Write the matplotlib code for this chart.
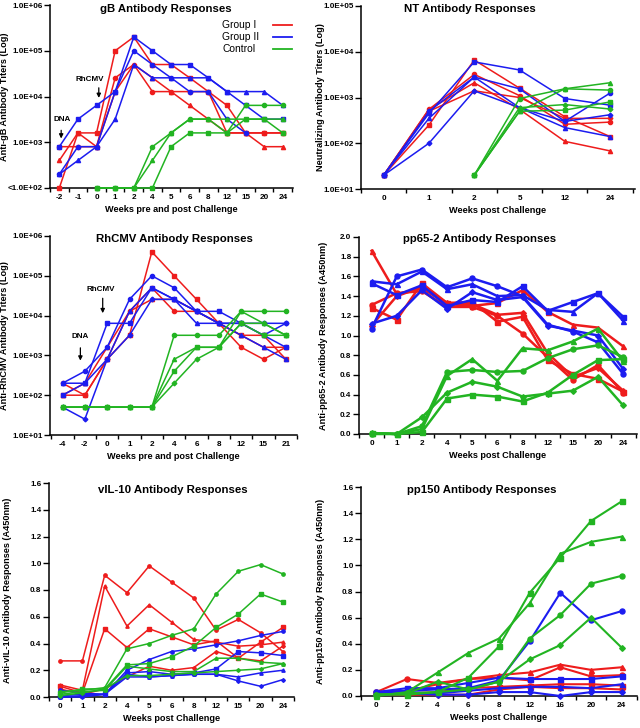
import numpy as np
import matplotlib
matplotlib.use("Agg")
import matplotlib.pyplot as plt
from matplotlib.lines import Line2D

nan = np.nan
RED, BLUE, GREEN = "#ee1c1c", "#1c1cf0", "#22b422"
MARKERS = ["s", "o", "^", "D"]

# ---------------- gB ----------------
gb_weeks = ["-2", "-1", "0", "1", "2", "4", "5", "6", "8", "12", "15", "20", "24"]
gb_group1 = [
    [100, 1600, 1600, 1e5, 2e5, 5e4, 5e4, 25600, 12800, 6400, 1600, 1600, 1600],
    [800, 800, 800, 25600, 5e4, 12800, 12800, 12800, 12800, 1600, 1600, 1600, 1600],
    [400, 1600, 800, 12800, 5e4, 25600, 12800, 6400, 3200, 1600, 1600, 800, 800],
]
gb_group2 = [
    [800, 3200, 6400, 12800, 2e5, 1e5, 5e4, 5e4, 25600, 12800, 6400, 3200, 3200],
    [200, 800, 800, 12800, 1e5, 5e4, 25600, 12800, 12800, 3200, 1600, nan, nan],
    [200, 400, 800, 3200, 5e4, 25600, 25600, 25600, 25600, 12800, 12800, 12800, 6400],
]
gb_control = [
    [nan, nan, 100, 100, 100, 100, 800, 1600, 1600, 1600, 3200, 3200, 1600],
    [nan, nan, 100, 100, 100, 800, 1600, 3200, 3200, 1600, 6400, 6400, 6400],
    [nan, nan, 100, 100, 100, 400, 1600, 3200, 3200, 3200, 3200, 3200, 3200],
]
gb_yticklabels = ["<1.0E+02", "1.0E+03", "1.0E+04", "1.0E+05", "1.0E+06"]
legend_labels = ["Group I", "Group II", "Control"]

# ---------------- NT ----------------
nt_weeks = ["0", "1", "2", "5", "12", "24"]
nt_group1 = [
    [20, 250, 6600, 1600, 380, 140],
    [20, 550, 3200, 1100, 260, 290],
    [20, 550, 2100, 550, 110, 68],
    [20, 500, 1400, 1000, 350, 350],
]
nt_group2 = [
    [20, 450, 6000, 4000, 950, 680],
    [20, 500, 2800, 1550, 300, 1250],
    [20, 350, 2800, 600, 220, 140],
    [20, 100, 1400, 600, 300, 420],
]
nt_control = [
    [nan, nan, 20, 500, 530, 800],
    [nan, nan, 20, 950, 1550, 1450],
    [nan, nan, 20, 500, 1550, 2100],
    [nan, nan, 20, 600, 700, 560],
]
nt_yticklabels = ["1.0E+01", "1.0E+02", "1.0E+03", "1.0E+04", "1.0E+05"]

# ---------------- RhCMV ----------------
rh_weeks = ["-4", "-2", "0", "1", "2", "4", "6", "8", "12", "15", "21"]
rh_group1 = [
    [100, 100, 800, 3200, 4e5, 1e5, 25600, 6400, 3200, 3200, 800],
    [200, 100, 800, 12800, 5e4, 12800, 12800, 6400, 1600, 800, 1600],
    [100, 200, 1600, 12800, 25600, 25600, 12800, 6400, 3200, 1600, 1600],
]
rh_group2 = [
    [100, 200, 6400, 6400, 5e4, 25600, 12800, 12800, 6400, 3200, 1600],
    [200, 400, 1600, 25600, 1e5, 5e4, 12800, 6400, 6400, 6400, 6400],
    [200, 200, 800, 12800, 5e4, 25600, 6400, 6400, 3200, 1600, 800],
    [50, 25, 800, 3200, 25600, 25600, 12800, 6400, 6400, 3200, 6400],
]
rh_control = [
    [50, 50, 50, 50, 50, 400, 1600, 1600, 6400, 3200, 3200],
    [50, 50, 50, 50, 50, 3200, 3200, 3200, 12800, 12800, 12800],
    [50, 50, 50, 50, 50, 800, 1600, 1600, 12800, 6400, 3200],
    [50, 50, 50, 50, 50, 200, 800, 1600, 6400, 6400, 3200],
]
rh_yticklabels = ["1.0E+01", "1.0E+02", "1.0E+03", "1.0E+04", "1.0E+05", "1.0E+06"]

# ---------------- pp65-2 ----------------
pp65_weeks = ["0", "1", "2", "4", "5", "6", "8", "12", "15", "20", "24"]
pp65_group1 = [
    [1.28, 1.16, 1.53, 1.33, 1.34, 1.14, 1.19, 0.75, 0.61, 0.56, 0.43],
    [1.31, 1.43, 1.45, 1.29, 1.29, 1.20, 1.02, 0.78, 0.55, 0.70, 0.42],
    [1.86, 1.42, 1.48, 1.32, 1.30, 1.33, 1.46, 1.24, 1.11, 1.08, 0.89],
    [1.10, 1.40, 1.49, 1.33, 1.32, 1.21, 1.23, 0.82, 0.58, 0.67, 0.44],
]
pp65_group2 = [
    [1.53, 1.41, 1.51, 1.30, 1.36, 1.34, 1.50, 1.25, 1.34, 1.43, 1.19],
    [1.07, 1.60, 1.67, 1.49, 1.58, 1.50, 1.40, 1.11, 1.04, 0.93, 0.61],
    [1.55, 1.52, 1.65, 1.47, 1.52, 1.40, 1.41, 1.26, 1.24, 1.43, 1.15],
    [1.12, 1.20, 1.46, 1.27, 1.44, 1.36, 1.39, 1.10, 1.05, 1.00, 0.66],
]
pp65_control = [
    [0.01, 0.00, 0.02, 0.36, 0.40, 0.38, 0.33, 0.42, 0.60, 0.75, 0.76],
    [0.00, 0.00, 0.08, 0.63, 0.65, 0.63, 0.64, 0.77, 0.86, 0.90, 0.78],
    [0.01, 0.00, 0.05, 0.59, 0.76, 0.54, 0.87, 0.85, 0.94, 1.07, 0.74],
    [0.01, 0.00, 0.17, 0.42, 0.53, 0.48, 0.38, 0.41, 0.44, 0.58, 0.29],
]

# ---------------- vIL-10 ----------------
vil_weeks = ["0", "1", "2", "4", "5", "6", "8", "12", "15", "20", "24"]
vil_group1 = [
    [0.08, 0.03, 0.51, 0.37, 0.51, 0.45, 0.39, 0.42, 0.29, 0.41, 0.52],
    [0.27, 0.27, 0.91, 0.78, 0.98, 0.86, 0.74, 0.50, 0.58, 0.48, 0.34],
    [0.09, 0.05, 0.83, 0.53, 0.69, 0.56, 0.43, 0.41, 0.38, 0.39, 0.41],
    [0.06, 0.02, 0.06, 0.15, 0.23, 0.20, 0.22, 0.34, 0.29, 0.27, 0.38],
]
vil_group2 = [
    [0.01, 0.02, 0.02, 0.18, 0.19, 0.17, 0.18, 0.21, 0.34, 0.33, 0.31],
    [0.05, 0.03, 0.02, 0.20, 0.28, 0.34, 0.36, 0.39, 0.42, 0.46, 0.49],
    [0.00, 0.01, 0.02, 0.17, 0.15, 0.16, 0.17, 0.17, 0.15, 0.18, 0.20],
    [0.00, 0.00, 0.02, 0.15, 0.15, 0.16, 0.17, 0.17, 0.12, 0.08, 0.13],
]
vil_control = [
    [0.03, 0.06, 0.06, 0.24, 0.25, 0.30, 0.38, 0.52, 0.62, 0.77, 0.71],
    [0.04, 0.05, 0.07, 0.36, 0.40, 0.46, 0.51, 0.77, 0.94, 0.99, 0.92],
    [0.02, 0.04, 0.05, 0.23, 0.21, 0.19, 0.19, 0.29, 0.29, 0.26, 0.25],
    [0.01, 0.03, 0.06, 0.16, 0.16, 0.17, 0.18, 0.19, 0.20, 0.21, 0.25],
]

# ---------------- pp150 ----------------
pp150_weeks = ["0", "2", "4", "6", "8", "12", "16", "20", "24"]
pp150_group1 = [
    [0.02, 0.02, 0.03, 0.06, 0.07, 0.08, 0.09, 0.09, 0.08],
    [0.03, 0.13, 0.10, 0.13, 0.14, 0.12, 0.22, 0.15, 0.16],
    [0.03, 0.04, 0.09, 0.13, 0.16, 0.18, 0.24, 0.20, 0.22],
    [0.01, 0.01, 0.01, 0.01, 0.05, 0.07, 0.06, 0.06, 0.05],
]
pp150_group2 = [
    [0.03, 0.06, 0.06, 0.10, 0.14, 0.13, 0.13, 0.13, 0.15],
    [0.03, 0.04, 0.05, 0.06, 0.12, 0.42, 0.79, 0.58, 0.65],
    [0.02, 0.03, 0.02, 0.04, 0.06, 0.07, 0.07, 0.06, 0.09],
    [0.01, 0.02, 0.01, 0.01, 0.03, 0.03, 0.00, 0.03, 0.03],
]
pp150_control = [
    [0.01, 0.01, 0.03, 0.14, 0.38, 0.79, 1.06, 1.34, 1.49],
    [0.01, 0.02, 0.03, 0.05, 0.11, 0.44, 0.62, 0.86, 0.92],
    [0.00, 0.03, 0.18, 0.33, 0.44, 0.71, 1.09, 1.18, 1.22],
    [0.01, 0.02, 0.11, 0.05, 0.11, 0.28, 0.39, 0.60, 0.37],
]

# ---------------- drawing ----------------
plt.rcParams["font.family"] = ["Liberation Sans", "DejaVu Sans"]
fig = plt.figure(figsize=(6.4, 7.28), dpi=100)


def add_ax(l, t, r, b):
    return fig.add_axes([l / 640, 1 - b / 728, (r - l) / 640, (b - t) / 728])


def draw_groups(ax, groups, lw, ms):
    for color, series_list in zip((RED, BLUE, GREEN), groups):
        for k, ys in enumerate(series_list):
            x = np.arange(len(ys))
            m = MARKERS[k % 4]
            size = ms * 0.8 if m == "D" else ms
            ax.plot(x, ys, color=color, lw=lw, marker=m,
                    ms=size, mec=color, mfc=color, clip_on=False, zorder=3)


def style(ax, weeks, xlim, title, tx, ty, xlabel, ylabel, ylx):
    n = len(weeks)
    ax.set_xlim(*xlim)
    ax.set_xticks(np.arange(-0.5, n, 1.0))
    ax.set_xticklabels([])
    ax.set_xticks(np.arange(n), weeks, minor=True)
    ax.tick_params(axis="x", which="major", length=3, width=1, direction="out")
    ax.tick_params(axis="x", which="minor", length=0, pad=4, labelsize=5.9)
    ax.tick_params(axis="y", which="major", length=4, width=1, direction="out",
                   labelsize=5.8, pad=1.5)
    for lbl in ax.get_xticklabels(minor=True) + ax.get_yticklabels():
        lbl.set_fontweight("bold")
    for s in ("top", "right"):
        ax.spines[s].set_visible(False)
    for s in ("left", "bottom"):
        ax.spines[s].set_linewidth(1.1)
    ax.set_xlabel(xlabel, fontsize=6.6, fontweight="bold", labelpad=3)
    ax.set_ylabel(ylabel, fontsize=6.6, fontweight="bold")
    ax.yaxis.set_label_coords(ylx, 0.5)
    ax.text(tx, ty, title, transform=ax.transAxes, ha="center", va="center",
            fontsize=8.2, fontweight="bold", clip_on=False)


def log_y(ax, lo, hi, labels):
    ax.set_yscale("log")
    ax.set_ylim(lo, hi)
    ticks = [10.0 ** e for e in range(int(np.log10(lo)), int(np.log10(hi)) + 1)]
    ax.set_yticks(ticks, labels)
    ax.yaxis.set_minor_locator(matplotlib.ticker.NullLocator())


def lin_y(ax, hi):
    ax.set_ylim(0, hi)
    ticks = np.round(np.arange(0, hi + 0.001, 0.2), 1)
    ax.set_yticks(ticks, ["%.1f" % t for t in ticks])


def arrow(ax, x, y_tip, y_tail):
    ax.annotate("", xy=(x, y_tip), xytext=(x, y_tail),
                arrowprops=dict(arrowstyle="-|>", color="black", lw=0.9,
                                mutation_scale=6))


# gB
ax1 = add_ax(50, 5, 293, 188)
draw_groups(ax1, (gb_group1, gb_group2, gb_control), 1.1, 3.0)
log_y(ax1, 100, 1e6, gb_yticklabels)
style(ax1, gb_weeks, (-0.45, 12.55), "gB Antibody Responses", 0.477, 0.978,
      "Weeks pre and post Challenge", "Anti-gB Antibody Titers (Log)", -0.168)
arrow(ax1, 0.1, 1050, 2100)
ax1.text(0.15, 3200, "DNA", ha="center", va="center", fontsize=5.8,
         fontweight="bold")
arrow(ax1, 2.12, 8100, 17800)
ax1.text(1.65, 23000, "RhCMV", ha="center", va="center", fontsize=5.8,
         fontweight="bold")
for i, (lab, c) in enumerate(zip(legend_labels, (RED, BLUE, GREEN))):
    yy = 0.891 - i * 0.066
    ax1.text(0.708, yy, lab, transform=ax1.transAxes, ha="left", va="center",
             fontsize=7.4)
    ax1.add_line(Line2D([0.918, 0.996], [yy, yy], transform=ax1.transAxes,
                        color=c, lw=1.3, clip_on=False))

# NT
ax2 = add_ax(361, 6, 635, 189)
draw_groups(ax2, (nt_group1, nt_group2, nt_control), 1.1, 3.0)
log_y(ax2, 10, 1e5, nt_yticklabels)
style(ax2, nt_weeks, (-0.45, 5.55), "NT Antibody Responses", 0.398, 0.984,
      "Weeks post Challenge", "Neutralizing Antibody Titers (Log)", -0.13)

# RhCMV
ax3 = add_ax(50, 236, 297, 435)
draw_groups(ax3, (rh_group1, rh_group2, rh_control), 1.1, 3.0)
log_y(ax3, 10, 1e6, rh_yticklabels)
style(ax3, rh_weeks, (-0.56, 10.4), "RhCMV Antibody Responses", 0.502, 0.985,
      "Weeks pre and post Challenge", "Anti-RhCMV Antibody Titers (Log)", -0.164)
arrow(ax3, 0.8, 630, 1820)
ax3.text(0.8, 2950, "DNA", ha="center", va="center", fontsize=5.8,
         fontweight="bold")
arrow(ax3, 1.8, 9800, 32000)
ax3.text(1.73, 45000, "RhCMV", ha="center", va="center", fontsize=5.8,
         fontweight="bold")

# pp65-2
ax4 = add_ax(359, 237, 637, 434)
draw_groups(ax4, (pp65_group1, pp65_group2, pp65_control), 1.8, 3.6)
lin_y(ax4, 2.0)
style(ax4, pp65_weeks, (-0.5, 10.55), "pp65-2 Antibody Responses", 0.435, 0.99,
      "Weeks post Challenge", "Anti-pp65-2 Antibody Responses (A450nm)", -0.113)

# vIL-10
ax5 = add_ax(49, 483, 294, 697)
draw_groups(ax5, (vil_group1, vil_group2, vil_control), 1.1, 2.4)
lin_y(ax5, 1.6)
style(ax5, vil_weeks, (-0.44, 10.3), "vIL-10 Antibody Responses", 0.506, 0.967,
      "Weeks post Challenge", "Anti-vIL-10 Antibody Responses (A450nm)", -0.153)

# pp150
ax6 = add_ax(361, 487, 637, 696)
draw_groups(ax6, (pp150_group1, pp150_group2, pp150_control), 1.5, 3.6)
lin_y(ax6, 1.6)
style(ax6, pp150_weeks, (-0.42, 8.45), "pp150 Antibody Responses", 0.438, 0.986,
      "Weeks post Challenge", "Anti-pp150 Antibody Responses (A450nm)", -0.129)

fig.savefig("out.png", dpi=100)
